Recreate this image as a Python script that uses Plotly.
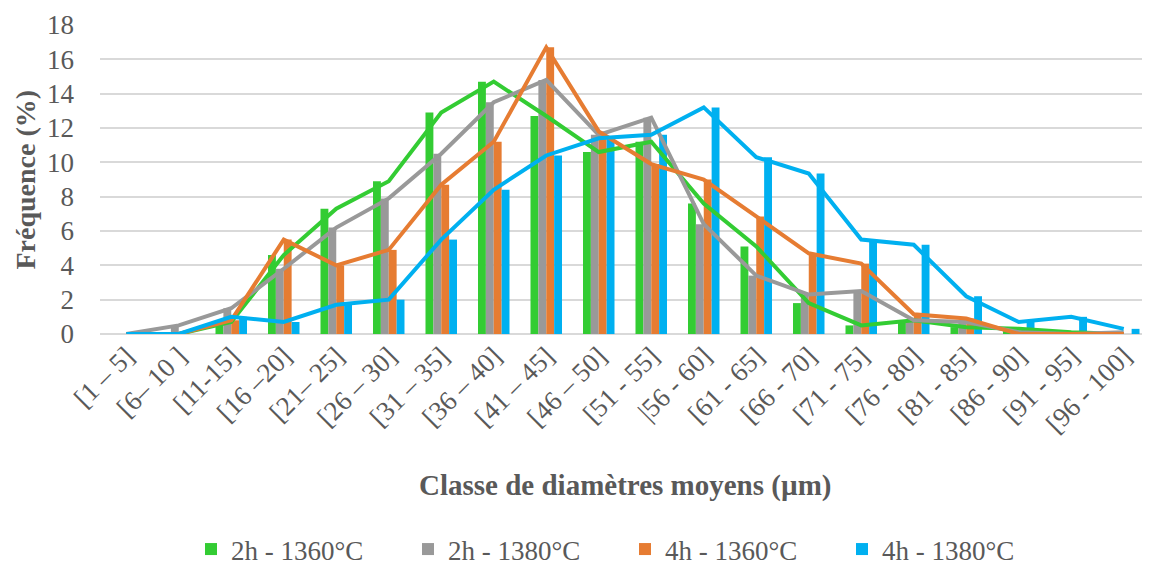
import plotly.graph_objects as go

categories = ["[1 – 5]", "[6– 10 ]", "[11-15]", "[16 –20]", "[21– 25]", "[26 – 30]",
              "[31 – 35]", "[36 – 40]", "[41 – 45]", "[46 – 50]", "[51 - 55]", "|56 - 60]",
              "[61 - 65]", "[66 - 70]", "[71 - 75]", "[76 - 80]", "[81 - 85]", "[86 - 90]",
              "[91 - 95]", "[96 - 100]"]

s_2h_1360 = [0, 0, 0.7, 4.6, 7.3, 8.9, 12.9, 14.7, 12.7, 10.6, 11.2, 7.6,
             5.1, 1.8, 0.5, 0.8, 0.4, 0.3, 0.1, 0]
s_2h_1380 = [0, 0.5, 1.5, 3.8, 6.2, 7.9, 10.5, 13.5, 14.8, 11.6, 12.6, 6.4,
             3.4, 2.3, 2.5, 0.8, 0.7, 0.1, 0, 0.1]
s_4h_1360 = [0, 0, 0.8, 5.5, 4.0, 4.9, 8.7, 11.2, 16.7, 11.8, 9.9, 9.0,
             6.85, 4.7, 4.1, 1.15, 0.9, 0, 0, 0]
s_4h_1380 = [0, 0, 1.0, 0.7, 1.7, 2.0, 5.5, 8.4, 10.4, 11.4, 11.6, 13.2,
             10.3, 9.35, 5.5, 5.2, 2.2, 0.7, 1.0, 0.3]

names = ["2h - 1360°C", "2h - 1380°C", "4h - 1360°C", "4h - 1380°C"]
colors = ["#33cc33", "#999999", "#e67c32", "#00b0f0"]
series = [s_2h_1360, s_2h_1380, s_4h_1360, s_4h_1380]

FONT = "Liberation Serif"
GREY = "#595959"

fig = go.Figure()
for n, c, s in zip(names, colors, series):
    fig.add_trace(go.Bar(x=categories, y=s, name=n, marker=dict(color=c, line=dict(width=0))))
for n, c, s in zip(names, colors, series):
    fig.add_trace(go.Scatter(x=categories, y=s, mode="lines", name=n, showlegend=False,
                             line=dict(color=c, width=4)))

fig.update_layout(
    width=1142, height=566,
    margin=dict(l=92, r=0, t=17, b=232),
    paper_bgcolor="white", plot_bgcolor="white",
    barmode="group", bargap=0.4, bargroupgap=0,
    font=dict(family=FONT, color=GREY, size=27),
    showlegend=True,
    legend=dict(orientation="h", x=0.5, xanchor="center", y=-0.70, yanchor="middle",
                font=dict(family=FONT, size=27, color=GREY),
                entrywidth=172, entrywidthmode="pixels", itemwidth=30,
                traceorder="normal"),
    xaxis=dict(type="category", tickangle=-45, tickfont=dict(family=FONT, size=27, color=GREY),
               showgrid=False, showline=False, ticks="", automargin=False),
    yaxis=dict(range=[0, 18], tickmode="linear", tick0=0, dtick=2,
               tickfont=dict(family=FONT, size=27, color=GREY),
               ticklabeloverflow="allow",
               showgrid=True, gridcolor="#d9d9d9", gridwidth=1.5,
               zeroline=True, zerolinecolor="#d9d9d9", zerolinewidth=1.5,
               ticks="", ticklabelstandoff=25, automargin=False),
    annotations=[
        dict(text="<b>Fréquence (%)</b>", xref="paper", yref="paper", x=-0.0714, y=0.5,
             xanchor="center", yanchor="middle", textangle=-90, showarrow=False,
             font=dict(family=FONT, size=28, color=GREY)),
        dict(text="<b>Classe de diamètres moyens (µm)</b>", xref="paper", yref="paper",
             x=0.5, y=-0.49, xanchor="center", yanchor="middle", showarrow=False,
             font=dict(family=FONT, size=29, color=GREY)),
    ],
)

fig.write_html("out.html")
